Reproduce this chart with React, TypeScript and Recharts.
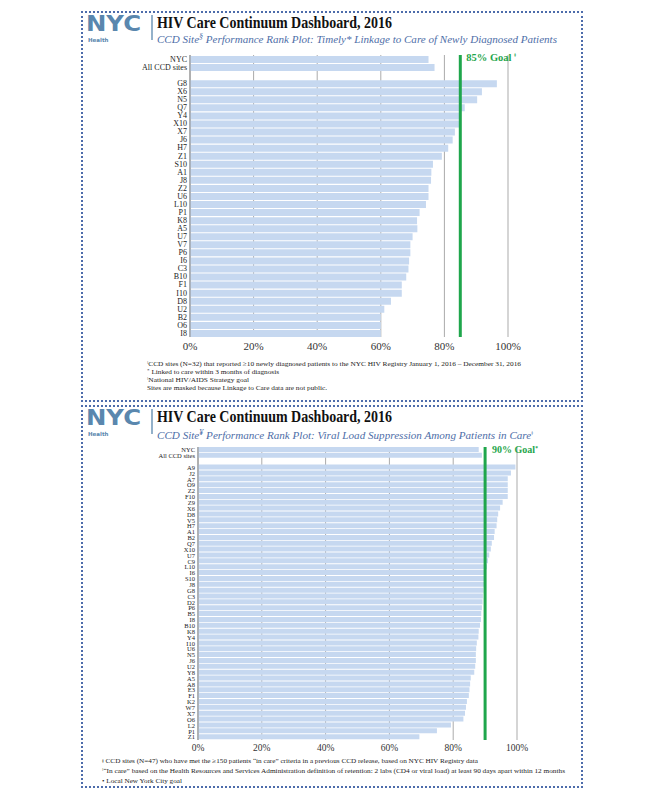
import React from 'react';
import { BarChart, Bar, XAxis, YAxis, CartesianGrid, ReferenceLine } from 'recharts';

// Panel 1: Timely linkage to care
const linkageSites = ['NYC', 'All CCD sites', '', 'G8', 'X6', 'N5', 'Q7', 'Y4', 'X10', 'X7', 'J6', 'H7', 'Z1', 'S10', 'A1', 'J8', 'Z2', 'U6', 'L10', 'P1', 'K8', 'A5', 'U7', 'V7', 'P6', 'I6', 'C3', 'B10', 'F1', 'I10', 'D8', 'U2', 'B2', 'O6', 'I8'];
const linkageValues = [75.0, 76.9, null, 96.5, 91.8, 90.3, 86.4, 85.0, 85.0, 83.3, 82.6, 81.2, 79.2, 76.4, 75.9, 75.8, 75.0, 75.0, 74.2, 72.2, 71.4, 71.5, 70.0, 69.3, 69.3, 68.9, 68.7, 68.0, 66.6, 66.6, 63.2, 61.1, 60.0, 60.0, 60.0];
const linkageGoal = 85;

// Panel 2: Viral load suppression
const vlsSites = ['NYC', 'All CCD sites', '', 'A9', 'J2', 'A7', 'O9', 'Z2', 'F10', 'Z9', 'X6', 'D8', 'V5', 'H7', 'A1', 'B2', 'Q7', 'X10', 'U7', 'C9', 'L10', 'I6', 'S10', 'J8', 'G8', 'C3', 'D2', 'P6', 'B5', 'I8', 'B10', 'K8', 'Y4', 'I10', 'U6', 'N5', 'J6', 'U2', 'Y8', 'A5', 'A8', 'E3', 'F1', 'K2', 'W7', 'X7', 'O6', 'L2', 'P1', 'Z1'];
const vlsValues = [88.0, 89.0, null, 99.5, 98.1, 97.1, 97.1, 97.1, 97.1, 95.5, 94.7, 94.1, 93.8, 93.6, 93.0, 92.8, 92.1, 91.8, 91.3, 90.9, 90.6, 90.3, 90.1, 89.8, 89.5, 89.3, 89.2, 89.0, 88.8, 88.7, 88.4, 88.0, 87.9, 87.4, 87.2, 87.1, 87.1, 86.9, 86.6, 85.5, 85.3, 85.1, 84.9, 84.3, 84.0, 83.7, 83.2, 79.3, 74.9, 69.4];
const vlsGoal = 90;

const pctTicks = [0, 20, 40, 60, 80, 100];

const linkageData = linkageSites.map((name, i) => ({ name, value: linkageValues[i] }));
const vlsData = vlsSites.map((name, i) => ({ name, value: vlsValues[i] }));

const SERIF = '"Liberation Serif", "Times New Roman", serif';
const BAR = '#c6d8f0';
const GRID = '#ababab';
const GREEN = '#1fa64c';
const BLUE_TXT = '#4e6ea8';
const LOGO = '#5a87ae';
const BORDER = '#4d6cab';

const GoalLabel = (text: string, sup: string, fontSize: number, dx: number, dyTop: number) => (props: any) => {
  const vb = props.viewBox || {};
  return (
    <text x={vb.x + dx} y={vb.y + dyTop} fontFamily={SERIF} fontWeight="bold" fontSize={fontSize} fill={GREEN}>
      {text}
      <tspan fontSize={fontSize * 0.55} dy={-fontSize * 0.35}>{sup}</tspan>
    </text>
  );
};

const Logo = ({ top }: { top: number }) => (
  <g>
    <text x={86} y={top + 20} fontFamily='"DejaVu Sans", sans-serif' fontWeight="bold" fontSize={21} fill={LOGO} textLength={55} lengthAdjust="spacingAndGlyphs">NYC</text>
    <text x={88} y={top + 31} fontFamily='"DejaVu Sans", sans-serif' fontWeight="bold" fontSize={5.5} fill={LOGO}>Health</text>
    <line x1={152} x2={152} y1={top + 4} y2={top + 29} stroke={LOGO} strokeWidth={1.3} />
  </g>
);

export default function App() {
  return (
    <div style={{ position: 'absolute', left: 0, top: 0, width: 666, height: 799, background: '#fff', overflow: 'hidden' }}>
      {/* Panel borders */}
      <div style={{ position: 'absolute', left: 81, top: 11, width: 502, height: 391, border: `2px dotted ${BORDER}`, boxSizing: 'border-box' }} />
      <div style={{ position: 'absolute', left: 81, top: 405, width: 502, height: 383, border: `2px dotted ${BORDER}`, boxSizing: 'border-box' }} />

      {/* Chart 1 */}
      <div style={{ position: 'absolute', left: 100, top: 45 }}>
        <BarChart width={430} height={320} data={linkageData} layout="vertical" margin={{ top: 10, right: 22, bottom: 8, left: 0 }} barSize={7}>
          <CartesianGrid horizontal={false} vertical stroke={GRID} />
          <XAxis type="number" domain={[0, 100]} ticks={pctTicks} tickFormatter={(v: number) => `${v}%`} axisLine={false} tickLine={false} tickSize={0} tickMargin={5} height={20} interval={0}
            tick={{ fontSize: 11, fill: '#333', fontFamily: SERIF }} />
          <YAxis type="category" dataKey="name" width={90} interval={0} tickLine={false} tickSize={0} tickMargin={3} axisLine={{ stroke: '#8c8c8c' }}
            tick={{ fontSize: 8, fill: '#222', fontFamily: SERIF }} />
          <Bar dataKey="value" fill={BAR} isAnimationActive={false} />
          <ReferenceLine x={linkageGoal} stroke={GREEN} strokeWidth={3} label={{ content: GoalLabel('85% Goal ', 'ǂ', 10.5, 6, 6) } as any} />
        </BarChart>
      </div>

      {/* Chart 2 */}
      <div style={{ position: 'absolute', left: 100, top: 437 }}>
        <BarChart width={440} height={325} data={vlsData} layout="vertical" margin={{ top: 10, right: 23, bottom: 4, left: 0 }} barSize={5}>
          <CartesianGrid horizontal={false} vertical stroke={GRID} />
          <XAxis type="number" domain={[0, 100]} ticks={pctTicks} tickFormatter={(v: number) => `${v}%`} axisLine={false} tickLine={false} tickSize={0} tickMargin={4} height={18} interval={0}
            tick={{ fontSize: 9.5, fill: '#333', fontFamily: SERIF }} />
          <YAxis type="category" dataKey="name" width={98} interval={0} tickLine={false} tickSize={0} tickMargin={3} axisLine={{ stroke: '#8c8c8c' }}
            tick={{ fontSize: 6.5, fill: '#222', fontFamily: SERIF }} />
          <Bar dataKey="value" fill={BAR} isAnimationActive={false} />
          <ReferenceLine x={vlsGoal} stroke={GREEN} strokeWidth={3} label={{ content: GoalLabel('90% Goal', '*', 10, 7, 6) } as any} />
        </BarChart>
      </div>

      {/* Text overlay */}
      <svg width={666} height={799} style={{ position: 'absolute', left: 0, top: 0, pointerEvents: 'none' }}>
        <Logo top={11} />
        <text x={157} y={27.5} fontFamily={SERIF} fontWeight="bold" fontSize={16.5} fill="#111" textLength={235} lengthAdjust="spacingAndGlyphs">HIV Care Continuum Dashboard, 2016</text>
        <text x={157} y={42.5} fontFamily={SERIF} fontStyle="italic" fontSize={11} fill={BLUE_TXT} textLength={400} lengthAdjust="spacingAndGlyphs">
          CCD Site<tspan fontSize={8} dy={-4}>§</tspan><tspan dy={4}> Performance Rank Plot: Timely* Linkage to Care of Newly Diagnosed Patients</tspan>
        </text>
        <g fontFamily={SERIF} fontSize={7} fill="#222">
          <text x={147} y={365.5} textLength={374} lengthAdjust="spacingAndGlyphs"><tspan fontSize={5} dy={-2}>ǂ</tspan><tspan dy={2}>CCD sites (N=32) that reported ≥10 newly diagnosed patients to the NYC HIV Registry January 1, 2016 – December 31, 2016</tspan></text>
          <text x={147} y={374} textLength={132} lengthAdjust="spacingAndGlyphs"><tspan fontSize={5} dy={-2}>*</tspan><tspan dy={2}> Linked to care within 3 months of diagnosis</tspan></text>
          <text x={147} y={382} textLength={102} lengthAdjust="spacingAndGlyphs"><tspan fontSize={5} dy={-2}>ǂ</tspan><tspan dy={2}>National HIV/AIDS Strategy goal</tspan></text>
          <text x={147} y={389.5} textLength={180} lengthAdjust="spacingAndGlyphs">Sites are masked because Linkage to Care data are not public.</text>
        </g>

        <Logo top={405} />
        <text x={157} y={421.5} fontFamily={SERIF} fontWeight="bold" fontSize={16.5} fill="#111" textLength={235} lengthAdjust="spacingAndGlyphs">HIV Care Continuum Dashboard, 2016</text>
        <text x={157} y={439} fontFamily={SERIF} fontStyle="italic" fontSize={11} fill={BLUE_TXT} textLength={376} lengthAdjust="spacingAndGlyphs">
          CCD Site<tspan fontSize={8} dy={-4}>¥</tspan><tspan dy={4}> Performance Rank Plot: Viral Load Suppression Among Patients in Care</tspan><tspan fontSize={7} dy={-4}>ǂ</tspan>
        </text>
        <g fontFamily={SERIF} fontSize={6.5} fill="#222">
          <text x={102} y={763} textLength={376} lengthAdjust="spacingAndGlyphs">ǂ CCD sites (N=47) who have met the ≥150 patients “in care” criteria in a previous CCD release, based on NYC HIV Registry data</text>
          <text x={102} y={773} textLength={463} lengthAdjust="spacingAndGlyphs"><tspan fontSize={5} dy={-2}>ǂ</tspan><tspan dy={2}>“In care” based on the Health Resources and Services Administration definition of retention: 2 labs (CD4 or viral load) at least 90 days apart within 12 months</tspan></text>
          <text x={102} y={783} textLength={80} lengthAdjust="spacingAndGlyphs">• Local New York City goal</text>
        </g>
      </svg>
    </div>
  );
}
